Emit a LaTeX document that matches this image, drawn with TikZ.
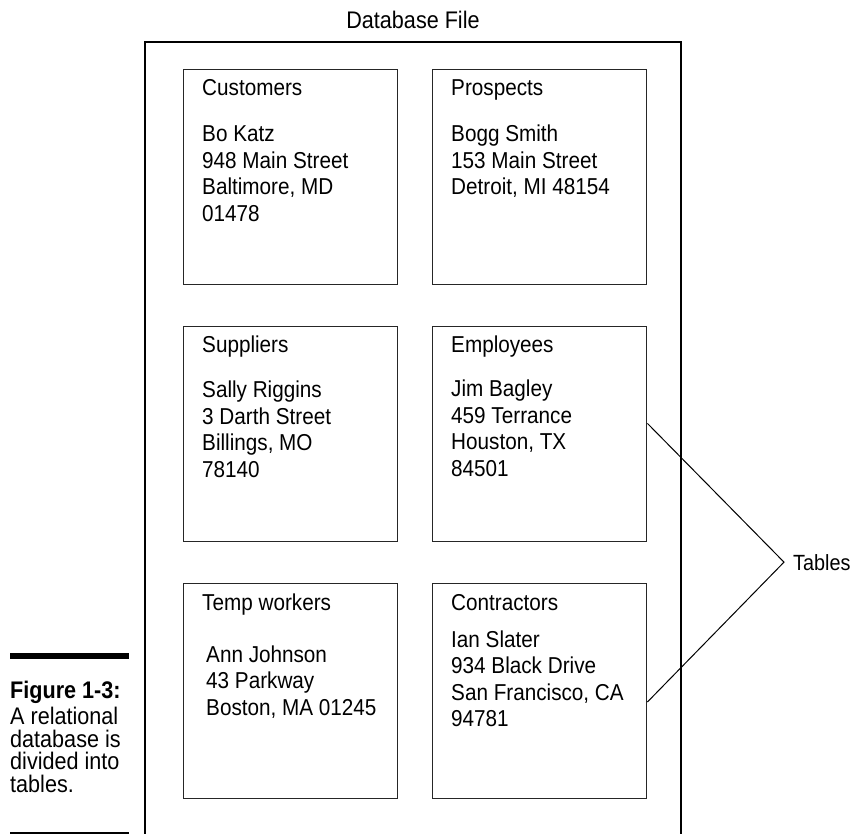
\documentclass[tikz,border=0pt]{standalone}
\usepackage{fontspec}
\setmainfont{Liberation Sans}[FakeStretch=0.9]
\usetikzlibrary{positioning,calc}

\begin{document}
\begin{tikzpicture}[
    x=1pt, y=-1pt, font=\fontsize{23}{26.5}\selectfont,
    frame/.style={line width=2.6pt, draw=black},
    tablebox/.style={draw=black!85, line width=1.4pt, minimum width=214pt,
      minimum height=215pt, inner sep=0pt, anchor=north west},
    tbltitle/.style={anchor=base west, inner sep=0pt},
    record/.style={anchor=base west, inner sep=0pt},
    bar/.style={line width=5.5pt, draw=black},
    pointer/.style={line width=1pt, draw=black}
]
\useasboundingbox (0,0) rectangle (855,834);
% outer frame, open at the bottom edge
\coordinate (fbl) at (145,834);
\coordinate (ftl) at (145,42);
\coordinate (ftr) at (681,42);
\coordinate (fbr) at (681,834);
\draw[frame] (fbl) -- (ftl) -- (ftr) -- (fbr);
\node[anchor=base, inner sep=0pt, font=\fontsize{24}{28}\selectfont]
  (dbfile) at (413,29) {Database File};
% the six tables
\foreach \nm/\x/\y/\ttl/\dx/\dy/\rec in {
    cust/183/69/Customers/19/73/{Bo Katz\\948 Main Street\\Baltimore, MD\\01478},
    pros/432/69/Prospects/19/73/{Bogg Smith\\153 Main Street\\Detroit, MI 48154},
    supp/183/326/Suppliers/19/72/{Sally Riggins\\3 Darth Street\\Billings, MO\\78140},
    emp/432/326/Employees/19/71/{Jim Bagley\\459 Terrance\\Houston, TX\\84501},
    temp/183/583/Temp workers/23/79/{Ann Johnson\\43 Parkway\\Boston, MA 01245},
    con/432/583/Contractors/19/64/{Ian Slater\\934 Black Drive\\San Francisco, CA\\94781}}{
  \node[tablebox] (\nm) at (\x,\y) {};
  \node[tbltitle] (\nm-title) at ([shift={(19,27)}]\nm.north west) {\ttl};
  \node[record] (\nm-rec) at ([shift={(\dx,\dy)}]\nm.north west)
    {\begin{tabular}[t]{@{}l@{}}\rec\end{tabular}};
}
% label for the tables
\node[anchor=base west, inner sep=0pt, font=\fontsize{22}{26}\selectfont]
  (tbl) at (793,570) {Tables};
\coordinate (apex) at ([xshift=-9pt]tbl.west);
\draw[pointer] ($(emp.north east)!.45!(emp.south east)$) -- (apex)
  -- ($(con.north east)!.55!(con.south east)$);
% caption
\draw[bar] (10,656) -- (129,656);
\draw[bar] (10,835) -- (129,835);
\node[anchor=base west, align=left, inner sep=0pt,
  font=\fontsize{24}{22.5}\selectfont] (caption) at (10,792)
  {\textbf{Figure 1-3:}\\[4pt]A relational\\database is\\divided into\\tables.};
\end{tikzpicture}
\end{document}
